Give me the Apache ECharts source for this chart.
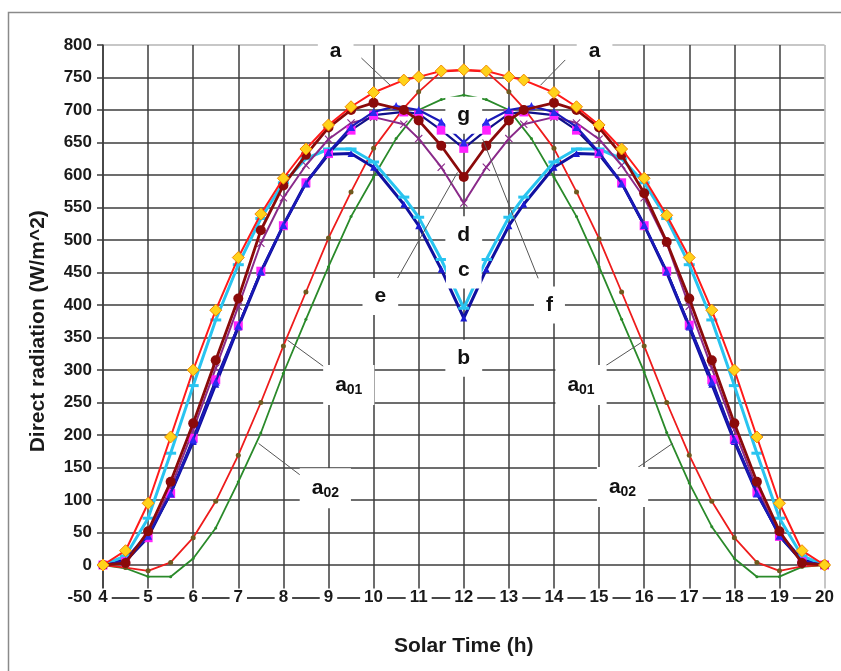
<!DOCTYPE html>
<html>
<head>
<meta charset="utf-8">
<script src="https://cdn.jsdelivr.net/npm/echarts@6/dist/echarts.min.js"></script>
<style>html,body{margin:0;padding:0;background:#fff}#c{width:841px;height:671px}</style>
</head>
<body>
<div id="c"></div>
<script>
// ---- data ----
const hoursA = [4,4.5,5,5.5,6,6.5,7,7.5,8,8.5,9,9.5,10,10.67,11,11.5,12,12.5,13,13.33,14,14.5,15,15.5,16,16.5,17,17.5,18,18.5,19,19.5,20];
const hoursB = [4,4.5,5,5.5,6,6.5,7,7.5,8,8.5,9,9.5,10,10.5,11,11.5,12,12.5,13,13.5,14,14.5,15,15.5,16,16.5,17,17.5,18,18.5,19,19.5,20];
const curveA   = [0,22,95,197,300,392,473,540,595,640,677,705,727,746,751,760,762,760,751,746,727,705,677,640,595,538,473,392,300,197,95,22,0];
const curveA01 = [0,-4,-9,4,42,98,169,250,337,420,503,574,641,703,728,759,761,759,728,703,641,574,502,420,337,250,169,98,42,4,-9,-2,0];
const curveA02 = [0,-5,-18,-18,10,57,128,203,295,378,459,536,597,656,700,716,723,716,700,656,597,536,459,378,297,204,126,59,10,-18,-18,-3,0];
const curveD   = [0,3,52,128,218,315,410,515,584,631,673,700,711,700,684,645,597,645,684,700,711,700,673,631,572,497,410,315,218,128,52,3,0];
const curveE   = [0,5,45,118,208,303,398,495,565,615,655,680,689,678,656,612,557,612,656,678,689,680,655,615,565,495,398,303,208,118,45,5,0];
const curveF   = [0,5,42,110,195,285,368,452,522,588,633,669,692,697,694,669,641,669,694,697,692,669,633,588,522,452,369,285,193,112,44,5,0];
const curveG   = [0,6,45,110,193,282,368,452,523,587,635,674,697,706,700,682,650,682,700,706,697,674,635,587,523,452,368,282,193,110,45,6,0];
const curveB   = [0,8,48,110,190,278,366,450,523,588,632,633,612,555,522,455,380,455,522,555,612,633,632,588,523,450,366,278,190,110,48,8,0];
const curveC   = [0,14,72,172,276,377,462,533,588,625,640,640,620,566,535,470,395,470,535,566,620,640,640,625,588,533,462,377,276,172,72,14,0];
const yTicks = {min:-50, max:800, step:50};
const xTicks = {min:4, max:20, step:1};
// annotation labels: [hour, value, text]
const labelPoints = [
  [9.16,790,'a'],[14.9,790,'a'],[12,692,'g'],[12,508,'d'],[12,454,'c'],[12,318,'b'],
  [10.15,413,'e'],[13.9,400,'f'],
  [9.45,277,'a01'],[14.6,277,'a01'],[8.93,118,'a02'],[15.52,120,'a02']
];
// leader lines: [[h1,v1],[h2,v2]]
const leaders = [
  [[9.73,780],[10.37,738]],
  [[14.25,777],[13.7,738]],
  [[10.52,440],[11.86,604]],
  [[13.65,441],[12.42,655]],
  [[9.0,300],[8.09,346]],
  [[8.38,138],[7.45,187]],
  [[15.0,300],[15.93,342]],
  [[15.67,141],[16.63,187]]
];

function pairs(xs, ys){ return xs.map((x,i)=>[x, ys[i]]); }

const FONT = '"Liberation Sans", Arial, Helvetica, sans-serif';
const crossPath = 'path://M0,1L1,0L5,4L9,0L10,1L6,5L10,9L9,10L5,6L1,10L0,9L4,5Z';

const nY = (yTicks.max - yTicks.min)/yTicks.step + 1;
const yLineColors = [];
for (let i=0;i<nY;i++) yLineColors.push(i===nY-1 ? '#b4b4b4' : '#3c3c3c');
const nX = (xTicks.max - xTicks.min)/xTicks.step + 1;
const xLineColors = [];
for (let i=0;i<nX;i++) xLineColors.push(i===nX-1 ? '#b4b4b4' : '#3c3c3c');

const chart = echarts.init(document.getElementById('c'), null, {renderer:'canvas'});

function lineSeries(name, xs, ys, color, width, symbol, size, fill, border, z){
  return {
    name, type:'line', data: pairs(xs, ys), z,
    symbol, symbolSize: size, showSymbol:true,
    lineStyle:{color, width},
    itemStyle:{color: fill, borderColor: border || fill, borderWidth: border ? 1 : 0},
    emphasis:{disabled:true}, animation:false
  };
}

const rich = {
  t:{fontSize:21, fontWeight:'bold', fontFamily:FONT, color:'#111', textBorderWidth:0, textShadowBlur:0},
  s:{fontSize:14, fontWeight:'bold', fontFamily:FONT, color:'#111', padding:[10,0,0,0], textBorderWidth:0, textShadowBlur:0}
};

const option = {
  animation:false,
  textStyle:{fontFamily:FONT},
  graphic:[{type:'rect', shape:{x:8.5, y:12.5, width:1000, height:1000}, style:{fill:'none', stroke:'#8a8a8a', lineWidth:1.5}, silent:true, z:-10}],
  grid:{left:103, right:13, top:45, bottom:73.5, containLabel:false},
  xAxis:{
    type:'value', min:xTicks.min, max:xTicks.max, interval:xTicks.step,
    name:'Solar Time (h)', nameLocation:'middle', nameGap:38,
    nameTextStyle:{fontSize:21, fontWeight:'bold', color:'#1a1a1a', fontFamily:FONT},
    axisLine:{show:true, onZero:false, lineStyle:{color:'#3c3c3c', width:1.5}},
    axisTick:{show:false},
    axisLabel:{fontSize:17, fontWeight:'bold', color:'#1a1a1a', margin:-9, backgroundColor:'#fff', padding:[0,4,0,4], fontFamily:FONT},
    splitLine:{show:true, lineStyle:{color:xLineColors, width:1.5}}
  },
  yAxis:{
    type:'value', min:yTicks.min, max:yTicks.max, interval:yTicks.step,
    name:'Direct radiation (W/m^2)', nameLocation:'middle', nameGap:54,
    nameTextStyle:{fontSize:21, fontWeight:'bold', color:'#1a1a1a', fontFamily:FONT, padding:[0,0,0,-20]},
    axisLine:{show:true, lineStyle:{color:'#3c3c3c', width:1.5}},
    axisTick:{show:true, length:6, lineStyle:{color:'#3c3c3c', width:1.5}},
    axisLabel:{fontSize:17, fontWeight:'bold', color:'#1a1a1a', margin:11, fontFamily:FONT},
    splitLine:{show:true, lineStyle:{color:yLineColors, width:1.5}}
  },
  series:[
    lineSeries('a02', hoursB, curveA02, '#2a8a2a', 1.8, 'circle', 3, '#2a8a2a', null, 2),
    lineSeries('a01', hoursA, curveA01, '#ee1c1c', 1.8, 'circle', 5, '#6f5a1e', null, 3),
    lineSeries('b', hoursA, curveB, '#1010a0', 3, 'triangle', 7, '#1a1ad0', null, 4),
    lineSeries('c', hoursA, curveC, '#29c4f0', 3, 'rect', [11,3], '#29c4f0', null, 5),
    lineSeries('e', hoursA, curveE, '#8a2a8a', 2, crossPath, 8, '#8a2a8a', null, 6),
    lineSeries('f', hoursA, curveF, '#10108a', 2.2, 'rect', 9, '#ff22ff', null, 7),
    lineSeries('g', hoursB, curveG, '#1a1ab8', 2.2, 'triangle', 8, '#2a2af0', null, 8),
    lineSeries('d', hoursA, curveD, '#8b0a0a', 2.8, 'circle', 10, '#8b0a0a', null, 9),
    lineSeries('a', hoursA, curveA, '#ff1a1a', 2, 'diamond', 12, '#ffd21a', '#f08a00', 10),
    {
      type:'lines', coordinateSystem:'cartesian2d', z:11, silent:true,
      data: leaders.map(l=>({coords:l})),
      lineStyle:{color:'#555', width:1, opacity:1}, animation:false
    },
    {
      type:'scatter', z:12, symbolSize:0, silent:true, animation:false,
      itemStyle:{opacity:0},
      data: labelPoints.map(p=>({value:[p[0],p[1]], name:p[2]})),
      label:{
        show:true, position:'inside', backgroundColor:'#ffffff', borderWidth:0,
        shadowBlur:0, textBorderWidth:0, textShadowBlur:0, opacity:1,
        formatter: function(p){ const n=p.name; return n.length>1 ? '{t|'+n[0]+'}{s|'+n.slice(1)+'}' : '{t|'+n+'}'; },
        padding:[8,12,8,12], rich
      }
    }
  ]
};
chart.setOption(option);
</script>
</body>
</html>
